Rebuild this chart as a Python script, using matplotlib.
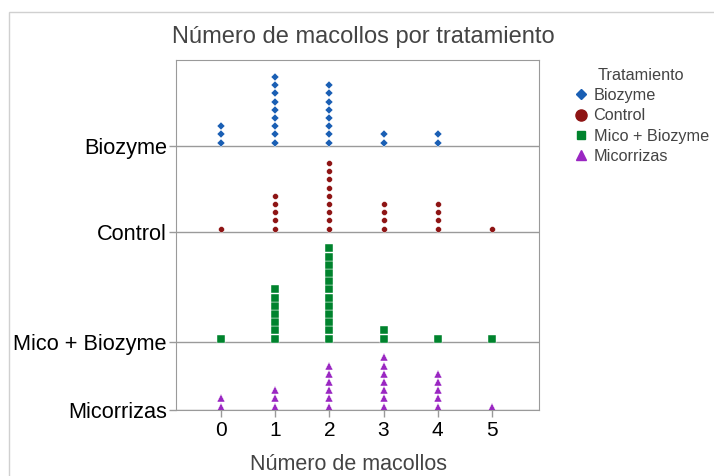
import matplotlib.pyplot as plt
import numpy as np

plt.rcParams['font.family'] = ['Liberation Sans', 'DejaVu Sans']

# conteo de plantas por numero de macollos (0..5) en cada tratamiento
macollos = [0, 1, 2, 3, 4, 5]
tratamientos = ["Biozyme", "Control", "Mico + Biozyme", "Micorrizas"]
biozyme = [3, 9, 8, 2, 2, 0]
control = [1, 5, 9, 4, 4, 1]
mico_biozyme = [1, 7, 12, 2, 1, 1]
micorrizas = [2, 3, 6, 7, 5, 1]

conteos = [biozyme, control, mico_biozyme, micorrizas]
colores = ["#1a5fb4", "#8e1414", "#00832d", "#9a26c2"]
marcadores = ["D", "o", "s", "^"]
tam = [4.0, 4.2, 5.2, 5.8]

# escala vertical en pixeles del panel
base = [264, 178, 68, 0]
paso = 8.2
offset = 3.4

fig = plt.figure(figsize=(7.14, 4.76), dpi=100)
ax = fig.add_axes([176/714, 66/476, 363/714, 350/476])

for cnt, col, mk, s, b in zip(conteos, colores, marcadores, tam, base):
    xs, ys = [], []
    for x, n in zip(macollos, cnt):
        for k in range(n):
            xs.append(x)
            ys.append(b + offset + k*paso)
    ax.plot(xs, ys, linestyle="none", marker=mk, color=col, markersize=s,
            markeredgewidth=0.3, markeredgecolor="white")
    ax.axhline(b, color="#9a9a9a", linewidth=1, zorder=0)

ax.set_xlim(-0.83, 5.87)
ax.set_ylim(0, 350)
ax.set_xticks(macollos)
ax.set_xticklabels([str(m) for m in macollos], fontsize=15)
ax.set_yticks(base)
ax.set_yticklabels(tratamientos, fontsize=15.7)
ax.tick_params(axis="both", color="#9a9a9a", length=5, width=1)
ax.tick_params(axis="x", pad=3)
ax.tick_params(axis="y", pad=1.5)
for sp in ax.spines.values():
    sp.set_color("#9a9a9a")

ax.set_xlabel("Número de macollos", fontsize=15.5, color="#444444")
ax.xaxis.set_label_coords(0.475, -0.126)
ax.set_title("Número de macollos por tratamiento", fontsize=17, color="#444444",
             pad=12, x=0.515)

# leyenda
handles = []
for t, col, mk, s in zip(tratamientos, colores, marcadores, [5.5, 8, 6, 6.5]):
    h, = ax.plot([], [], linestyle="none", marker=mk, color=col, markersize=s, label=t)
    handles.append(h)
leg = fig.legend(handles=handles, title="Tratamiento", loc="upper left",
                 bbox_to_anchor=(566/714, 1 - 61/476), frameon=False,
                 fontsize=11.7, title_fontsize=11.7, handletextpad=0.2,
                 labelspacing=0.33, borderaxespad=0, handlelength=1.1)
for txt in leg.get_texts():
    txt.set_color("#444444")
leg.get_title().set_color("#444444")

# marco gris claro de la figura
fig.patches.append(plt.Rectangle((9/714, -0.1), 1.2, 1 - 12/476 + 0.1,
                                 transform=fig.transFigure, fill=False,
                                 edgecolor="#d0d0d0", linewidth=1))

fig.savefig("out.png", dpi=100)
